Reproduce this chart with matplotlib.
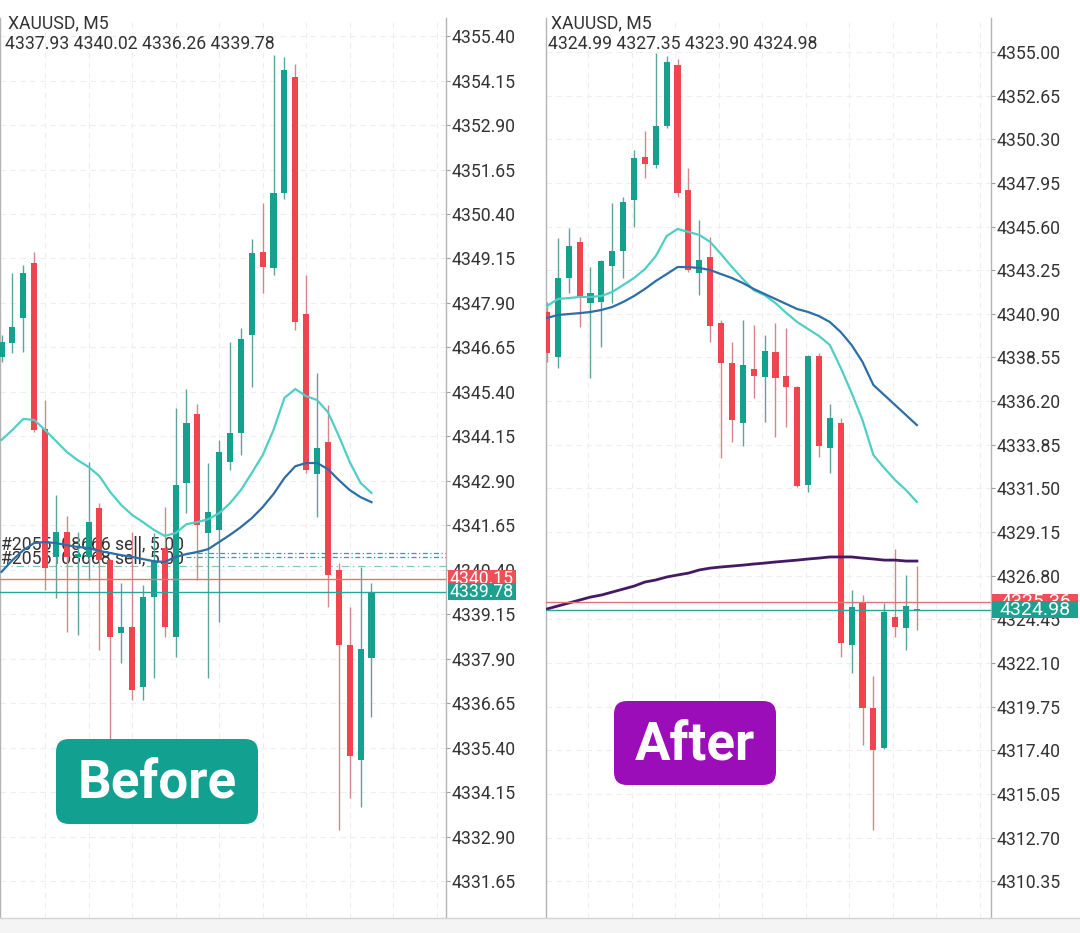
import numpy as np
import matplotlib
matplotlib.use('Agg')
import matplotlib.pyplot as plt
from matplotlib.patches import FancyBboxPatch, Rectangle
from matplotlib.transforms import blended_transform_factory

plt.rcParams['font.family'] = ['Roboto', 'DejaVu Sans']

# ---- "Before" panel: XAUUSD M5 ----
before_open = [4346.38, 4346.77, 4347.47, 4349.02, 4344.35, 4340.76, 4341.46, 4340.76, 4340.76, 4342.13,
               4340.67, 4338.62, 4338.79, 4337.10, 4339.63, 4341.01, 4338.51, 4342.84, 4344.78, 4341.43,
               4341.52, 4343.43, 4344.24, 4347.00, 4349.33, 4348.88, 4350.99, 4354.25, 4347.59, 4343.09,
               4343.99, 4340.39, 4338.28, 4335.05, 4337.93]
before_high = [4347.00, 4348.74, 4348.96, 4349.33, 4345.17, 4342.50, 4341.91, 4341.46, 4343.43, 4342.27,
               4340.70, 4340.03, 4341.46, 4339.97, 4341.43, 4342.16, 4344.94, 4345.48, 4345.06, 4343.40,
               4344.05, 4346.80, 4347.19, 4349.69, 4350.71, 4354.87, 4354.81, 4354.61, 4348.68, 4345.93,
               4345.03, 4340.59, 4339.35, 4340.48, 4340.02]
before_low = [4346.24, 4346.49, 4346.52, 4344.27, 4339.83, 4339.60, 4338.65, 4338.57, 4340.11, 4338.14,
              4335.61, 4337.78, 4336.74, 4336.74, 4337.36, 4338.51, 4337.95, 4341.99, 4340.11, 4337.36,
              4338.93, 4343.20, 4343.62, 4345.53, 4348.18, 4348.68, 4350.82, 4347.14, 4343.12, 4341.88,
              4339.35, 4333.08, 4333.98, 4333.73, 4336.26]
before_close = [4346.80, 4347.22, 4348.74, 4344.33, 4340.45, 4341.46, 4340.76, 4340.84, 4341.74, 4340.67,
                4338.51, 4338.79, 4337.02, 4339.63, 4340.62, 4338.79, 4342.78, 4344.52, 4341.66, 4342.02,
                4343.71, 4344.24, 4346.88, 4349.30, 4348.91, 4350.99, 4354.44, 4347.36, 4343.20, 4343.82,
                4340.25, 4338.28, 4335.16, 4338.17, 4339.78]
before_ma_fast = [4344.05, 4344.33, 4344.64, 4344.61, 4344.33, 4344.02, 4343.71, 4343.48, 4343.29, 4343.03,
                  4342.58, 4342.22, 4341.94, 4341.74, 4341.52, 4341.35, 4341.43, 4341.68, 4341.74, 4341.82,
                  4341.99, 4342.27, 4342.64, 4343.12, 4343.62, 4344.33, 4345.23, 4345.48, 4345.28, 4345.17,
                  4344.83, 4344.16, 4343.43, 4342.84, 4342.56]
before_ma_slow = [4340.34, 4340.67, 4340.95, 4341.15, 4341.18, 4341.15, 4341.09, 4341.04, 4341.01, 4340.93,
                  4340.87, 4340.81, 4340.76, 4340.70, 4340.64, 4340.62, 4340.76, 4340.84, 4340.90, 4340.98,
                  4341.18, 4341.38, 4341.60, 4341.85, 4342.16, 4342.53, 4342.98, 4343.31, 4343.40, 4343.40,
                  4343.23, 4342.92, 4342.64, 4342.44, 4342.30]
before_ticks = [4355.40, 4354.15, 4352.90, 4351.65, 4350.40, 4349.15, 4347.90, 4346.65, 4345.40, 4344.15,
                4342.90, 4341.65, 4340.40, 4339.15, 4337.90, 4336.65, 4335.40, 4334.15, 4332.90, 4331.65]
before_ask, before_bid = 4340.15, 4339.78
before_orders = [4340.87, 4340.76]
before_order_text = ['#2055108666 sell, 5.00', '#2055108668 sell, 5.00']
before_sl = 4340.50

# ---- "After" panel ----
after_open = [4341.00, 4338.58, 4342.83, 4344.77, 4341.48, 4341.54, 4343.48, 4344.28, 4347.03, 4349.35,
              4348.91, 4351.02, 4354.30, 4347.57, 4343.10, 4343.96, 4340.41, 4338.25, 4335.02, 4337.93,
              4337.50, 4338.85, 4337.55, 4336.96, 4331.68, 4338.63, 4333.68, 4335.02, 4323.07, 4325.33,
              4319.67, 4317.52, 4324.57, 4324.00, 4324.99]
after_high = [4341.54, 4344.98, 4345.52, 4345.04, 4343.42, 4343.80, 4346.87, 4347.19, 4349.72, 4350.75,
              4354.95, 4354.78, 4354.62, 4348.75, 4345.95, 4345.04, 4340.57, 4339.38, 4340.57, 4340.30,
              4339.76, 4340.41, 4340.14, 4337.00, 4338.68, 4338.79, 4336.04, 4335.29, 4326.03, 4325.76,
              4321.40, 4325.33, 4328.24, 4326.84, 4327.35]
after_low = [4338.31, 4337.98, 4342.02, 4340.19, 4337.44, 4339.11, 4341.48, 4342.83, 4345.58, 4348.21,
             4348.75, 4350.91, 4347.19, 4343.15, 4341.91, 4339.38, 4333.14, 4334.00, 4333.78, 4336.37,
             4335.08, 4334.27, 4334.81, 4331.58, 4331.31, 4333.19, 4332.33, 4322.42, 4321.56, 4317.68,
             4313.10, 4317.45, 4323.50, 4322.80, 4323.90]
after_close = [4338.79, 4342.83, 4344.55, 4341.75, 4342.02, 4343.75, 4344.28, 4346.92, 4349.29, 4348.97,
               4351.02, 4354.46, 4347.41, 4343.26, 4343.80, 4340.25, 4338.25, 4335.18, 4338.14, 4337.55,
               4338.90, 4337.44, 4336.96, 4331.63, 4338.63, 4333.78, 4335.29, 4323.17, 4325.11, 4319.67,
               4317.41, 4324.84, 4324.04, 4325.17, 4324.98]
after_ma_fast = [4341.32, 4341.70, 4341.75, 4341.81, 4341.81, 4341.86, 4342.08, 4342.45, 4342.83, 4343.31,
                 4344.01, 4345.09, 4345.47, 4345.31, 4345.15, 4344.77, 4344.12, 4343.42, 4342.78, 4342.18,
                 4341.91, 4341.48, 4340.95, 4340.46, 4340.08, 4339.71, 4339.22, 4337.99, 4336.64, 4335.18,
                 4333.30, 4332.60, 4331.95, 4331.41, 4330.77]
after_ma_slow = [4340.68, 4340.84, 4340.89, 4340.94, 4341.00, 4341.11, 4341.27, 4341.54, 4341.86, 4342.24,
                 4342.67, 4343.04, 4343.42, 4343.42, 4343.37, 4343.26, 4343.04, 4342.83, 4342.56, 4342.24,
                 4341.97, 4341.70, 4341.43, 4341.16, 4341.00, 4340.78, 4340.46, 4339.92, 4339.22, 4338.31,
                 4337.07, 4336.53, 4335.99, 4335.45, 4334.91]
after_ma_long = [4325.01, 4325.17, 4325.33, 4325.49, 4325.65, 4325.76, 4325.92, 4326.08, 4326.24, 4326.46,
                 4326.57, 4326.73, 4326.84, 4326.94, 4327.11, 4327.21, 4327.27, 4327.32, 4327.37, 4327.43,
                 4327.48, 4327.54, 4327.59, 4327.64, 4327.70, 4327.75, 4327.81, 4327.81, 4327.81, 4327.75,
                 4327.70, 4327.64, 4327.64, 4327.59, 4327.59]
after_ticks = [4355.00, 4352.65, 4350.30, 4347.95, 4345.60, 4343.25, 4340.90, 4338.55, 4336.20, 4333.85,
               4331.50, 4329.15, 4326.80, 4324.45, 4322.10, 4319.75, 4317.40, 4315.05, 4312.70, 4310.35]
after_ask, after_bid = 4325.36, 4324.98

GREEN = '#16a08e'
RED = '#f0444f'
GREEN_WICK = '#5fa39b'
RED_WICK = '#d4868b'
CYAN = '#4fcfc4'
BLUE = '#2d6ea6'
PURPLE = '#441a62'
FS = 12.7
W, H = 1080, 933
TOP, BOT = 18, 918

fig = plt.figure(figsize=(W / 100, H / 100), dpi=100)
fig.patch.set_facecolor('white')


def make_axes(left, right, xlim, ylim, ticks, vgrid):
    ax = fig.add_axes([left / W, 1 - BOT / H, (right - left) / W, (BOT - TOP) / H])
    ax.set_xlim(*xlim)
    ax.set_ylim(*ylim)
    ax.yaxis.tick_right()
    ax.set_yticks(ticks)
    ax.set_yticklabels([f'{t:.2f}' for t in ticks])
    ax.tick_params(axis='y', length=3, width=0.8, color='#9e9e9e', labelsize=FS,
                   labelcolor='#333333', pad=1)
    ax.set_xticks(vgrid)
    ax.tick_params(axis='x', length=0, labelbottom=False)
    ax.grid(True, color='#eeeeee', linestyle=(0, (5, 4)), linewidth=0.8)
    ax.set_axisbelow(True)
    for s in ['top', 'bottom']:
        ax.spines[s].set_visible(False)
    for s in ['left', 'right']:
        ax.spines[s].set_color('#b4b4b4')
        ax.spines[s].set_linewidth(1)
    ax.px_w = (right - left)
    return ax


def draw_candles(ax, o, h, l, c):
    o, h, l, c = map(np.asarray, (o, h, l, c))
    x = np.arange(len(o))
    up = c >= o
    ax.vlines(x, l, h, colors=np.where(up, GREEN_WICK, RED_WICK), linewidth=1, zorder=3)
    ax.bar(x, np.maximum(np.abs(c - o), 0.05), bottom=np.minimum(o, c), width=0.56,
           color=np.where(up, GREEN, RED), linewidth=0, zorder=4)


def price_tag(ax, y, txt, fc, width_px, fs, z):
    tr = blended_transform_factory(ax.transAxes, ax.transData)
    y0, y1 = ax.get_ylim()
    half = 8.5 * (y1 - y0) / (BOT - TOP)
    ax.add_patch(Rectangle((1.0 + 1.5 / ax.px_w, y - half), width_px / ax.px_w, 2 * half,
                           transform=tr, fc=fc, ec='none', clip_on=False, zorder=z))
    ax.text(1.0 + (1.5 + width_px / 2) / ax.px_w, y, txt, transform=tr, ha='center', va='center',
            fontsize=fs, color='white', clip_on=False, zorder=z + 0.1)


# left panel
ax1 = make_axes(0, 446, (-0.14, 40.85), (4330.61, 4355.91), before_ticks, np.arange(4, 41, 4))
idx = np.arange(len(before_open))
for y, txt, base in zip(before_orders, before_order_text, [4340.98, 4340.59]):
    ax1.hlines(y, 17.0, 40.85, colors='#26a69a', linestyles=(0, (4, 2, 1, 2)), linewidth=0.9, zorder=2)
    ax1.text(-0.05, base, txt, fontsize=FS, color='#333333', va='baseline', zorder=2)
ax1.axhline(before_sl, color='#7fc8c0', linestyle=(0, (6, 3, 1, 3)), linewidth=0.9, zorder=2)
draw_candles(ax1, before_open, before_high, before_low, before_close)
ax1.plot(idx, before_ma_fast, color=CYAN, linewidth=1.6, zorder=5)
ax1.plot(idx, before_ma_slow, color=BLUE, linewidth=1.6, zorder=5)
ax1.axhline(before_ask, color='#e57373', linewidth=1, zorder=5)
ax1.axhline(before_bid, color='#26a69a', linewidth=1, zorder=5)
price_tag(ax1, before_ask, f'{before_ask:.2f}', '#ef4f56', 68, FS, 6)
price_tag(ax1, before_bid, f'{before_bid:.2f}', '#1ca190', 68, FS, 6.5)

# right panel
ax2 = make_axes(546, 991, (-0.09, 40.81), (4308.37, 4356.83), after_ticks, np.arange(3.8, 41, 4))
idx = np.arange(len(after_open))
draw_candles(ax2, after_open, after_high, after_low, after_close)
ax2.plot(idx, after_ma_fast, color=CYAN, linewidth=1.6, zorder=5)
ax2.plot(idx, after_ma_slow, color=BLUE, linewidth=1.6, zorder=5)
ax2.plot(idx, after_ma_long, color=PURPLE, linewidth=2, zorder=5)
ax2.axhline(after_ask, color='#e57373', linewidth=1, zorder=5)
ax2.axhline(after_bid, color='#26a69a', linewidth=1, zorder=5)
price_tag(ax2, after_ask, f'{after_ask:.2f}', '#ef4f56', 86, 14, 6)
price_tag(ax2, after_bid, f'{after_bid:.2f}', '#1ca190', 86, 14, 6.5)

# overlay in pixel coordinates for headers, badges and frame
ov = fig.add_axes([0, 0, 1, 1], zorder=10)
ov.set_xlim(0, W)
ov.set_ylim(H, 0)
ov.axis('off')
ov.patch.set_alpha(0)

for x0, ohlc in [(8, (before_open[-1], before_high[-1], before_low[-1], before_close[-1])),
                 (551, (after_open[-1], after_high[-1], after_low[-1], after_close[-1]))]:
    ov.text(x0, 28, 'XAUUSD, M5', fontsize=FS, color='#333333', va='baseline')
    ov.text(x0 - 3, 49, ' '.join(f'{v:.2f}' for v in ohlc), fontsize=FS, color='#333333',
            va='baseline')
ov.add_patch(Rectangle((0, 0), W, 17, fc='white', ec='none'))

ov.add_patch(Rectangle((0, 918), W, 15, fc='#f4f4f4', ec='none'))
ov.plot([0, W], [918, 918], color='#d4d4d4', linewidth=1)


def badge(x0, y0, x1, y1, txt, color):
    r = 13
    ov.add_patch(FancyBboxPatch((x0 + r, y0 + r), x1 - x0 - 2 * r, y1 - y0 - 2 * r,
                                boxstyle=f'round,pad={r},rounding_size={r}', fc=color, ec='none'))
    ov.text((x0 + x1) / 2, (y0 + y1) / 2 + 2, txt, fontsize=38, fontweight='bold', color='white',
            ha='center', va='center')


badge(56, 739, 258, 824, 'Before', '#12a090')
badge(614, 701, 776, 785, 'After', '#9b0db9')

fig.savefig('out.png', dpi=100, facecolor='white')
